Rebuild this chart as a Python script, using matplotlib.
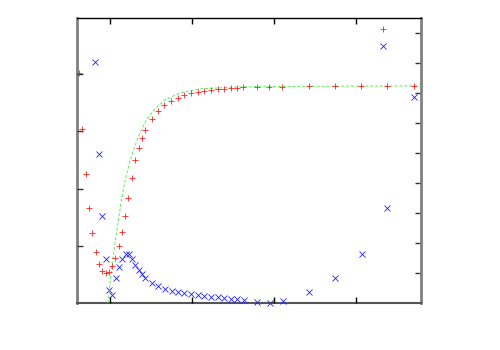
import matplotlib
matplotlib.use('Agg')
import matplotlib.pyplot as plt

# red crosses (left axis)
red_x = [-0.378, -0.341, -0.293, -0.256, -0.220, -0.171, -0.134, -0.098, -0.049, -0.012,
         0.024, 0.061, 0.110, 0.146, 0.183, 0.220, 0.268, 0.305, 0.354, 0.390, 0.427,
         0.512, 0.585, 0.659, 0.744, 0.829, 0.902, 0.988, 1.073, 1.146, 1.232, 1.317,
         1.390, 1.476, 1.549, 1.622, 1.793, 1.939, 2.098, 2.427, 2.744, 3.061, 3.378,
         3.707, 3.329]
red_y = [4.021, 3.042, 2.255, 1.661, 1.224, 0.892, 0.682, 0.559, 0.524, 0.542,
         0.647, 0.787, 0.997, 1.241, 1.521, 1.836, 2.185, 2.500, 2.710, 2.885, 3.024,
         3.217, 3.357, 3.462, 3.531, 3.584, 3.636, 3.671, 3.689, 3.706, 3.724, 3.741,
         3.741, 3.759, 3.759, 3.776, 3.776, 3.776, 3.776, 3.794, 3.794, 3.794, 3.794,
         3.794, 4.790]

# green fitted curve (left axis)
fit_x = [-0.024, 0.0, 0.024, 0.061, 0.098, 0.134, 0.183, 0.244, 0.305, 0.366, 0.451,
         0.549, 0.671, 0.854, 1.098, 1.585, 2.317, 3.793]
fit_y = [0.0, 0.332, 0.664, 1.031, 1.399, 1.748, 2.133, 2.483, 2.745, 2.972, 3.217,
         3.392, 3.549, 3.671, 3.741, 3.776, 3.785, 3.794]

# blue x-marks (right axis)
blue_x = [-0.183, -0.134, -0.098, -0.049, -0.012, 0.024, 0.073, 0.110, 0.146, 0.195,
          0.232, 0.268, 0.305, 0.354, 0.390, 0.427, 0.512, 0.585, 0.671, 0.756, 0.829,
          0.902, 0.988, 1.073, 1.146, 1.232, 1.317, 1.390, 1.476, 1.549, 1.634, 1.793,
          1.951, 2.110, 2.427, 2.744, 3.073, 3.378, 3.707, 3.329]
blue_y = [8.033, 4.967, 2.900, 1.467, 0.433, 0.267, 0.833, 1.200, 1.467, 1.633,
          1.633, 1.467, 1.267, 1.100, 0.967, 0.833, 0.667, 0.567, 0.467, 0.400, 0.367,
          0.333, 0.300, 0.267, 0.233, 0.200, 0.200, 0.167, 0.133, 0.133, 0.100, 0.033,
          0.000, 0.067, 0.367, 0.833, 1.633, 3.167, 6.867, 8.567]

fig = plt.figure(figsize=(5, 3.5), dpi=100)
ax = fig.add_axes([0.154, 0.1343, 0.688, 0.8143])
ax2 = ax.twinx()
# red/green axes on top so the edge points sit over the frame
ax.set_zorder(ax2.get_zorder() + 1)
ax.patch.set_visible(False)

ax.plot(fit_x, fit_y, color='#55ee55', lw=0.7, ls=(0, (3, 2)), zorder=2)
ax.plot(red_x, red_y, ls='none', marker='+', ms=5, mew=0.6, color='#ff2020', clip_on=False, zorder=3)
ax2.plot(blue_x, blue_y, ls='none', marker='x', ms=3.8, mew=0.6, color='#2020ff', clip_on=False, zorder=3)

ax.set_xlim(-0.402, 3.793)
ax.set_ylim(0, 4.98)
ax2.set_ylim(0, 9.5)

ax.set_xticks([0, 1, 2, 3])
ax.set_yticks([1, 2, 3, 4])
ax2.set_yticks([1, 2, 3, 4, 5, 6, 7, 8, 9])

ax.tick_params(axis='x', direction='in', top=True, bottom=True, length=4, width=1,
               labelbottom=False, labeltop=False)
ax.tick_params(axis='y', direction='in', left=True, right=False, length=4, width=1,
               labelleft=False, color='#333333')
ax2.tick_params(axis='y', direction='in', right=True, left=False, length=4, width=1,
                labelright=False, color='#333333')

for s in ax.spines.values():
    s.set_visible(False)
ax2.spines['left'].set_color('#808080')
ax2.spines['left'].set_linewidth(2)
ax2.spines['right'].set_color('#808080')
ax2.spines['right'].set_linewidth(2)
ax2.spines['top'].set_color('black')
ax2.spines['top'].set_linewidth(1)
ax2.spines['bottom'].set_color('#555555')
ax2.spines['bottom'].set_linewidth(1.5)

fig.savefig('out.png', dpi=100)
